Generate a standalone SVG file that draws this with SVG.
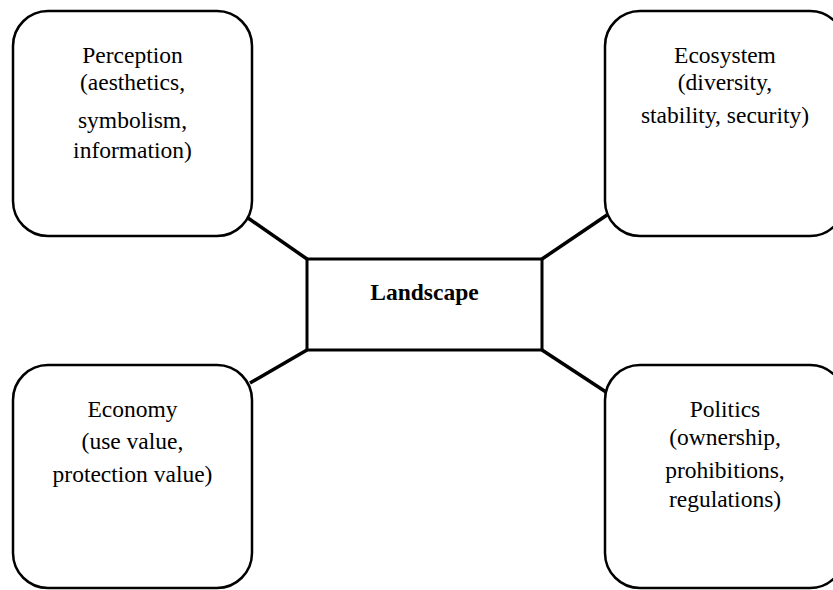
<svg xmlns="http://www.w3.org/2000/svg" width="833" height="590" viewBox="0 0 833 590">
<style>
.box{fill:#fff;stroke:#000;stroke-width:2.5}
.center{fill:#fff;stroke:#000;stroke-width:3}
.conn{stroke:#000;stroke-width:3.5;fill:none}
text{font-family:"Liberation Serif","Times New Roman",serif;font-size:23.5px;fill:#000;text-anchor:middle}
.bold{font-weight:bold}
</style>
<rect width="833" height="590" fill="#fff"/>
<g id="connectors">
<line class="conn" x1="248" y1="218" x2="307" y2="259"/>
<line class="conn" x1="607" y1="215" x2="542" y2="259"/>
<line class="conn" x1="250" y1="383" x2="307" y2="350"/>
<line class="conn" x1="606" y1="392" x2="542" y2="350"/>
</g>
<g id="perception">
<rect class="box" x="13" y="11" width="239" height="225" rx="35" ry="35"/>
<text x="132.5" y="63">Perception</text>
<text x="132.5" y="90">(aesthetics,</text>
<text x="132.5" y="128">symbolism,</text>
<text x="132.5" y="158">information)</text>
</g>
<g id="ecosystem">
<rect class="box" x="605" y="11" width="240" height="225" rx="35" ry="35"/>
<text x="725" y="63">Ecosystem</text>
<text x="725" y="90">(diversity,</text>
<text x="725" y="123">stability, security)</text>
</g>
<g id="landscape">
<rect class="center" x="307" y="259" width="235" height="91"/>
<text class="bold" x="424.5" y="300">Landscape</text>
</g>
<g id="economy">
<rect class="box" x="13" y="365" width="239" height="223" rx="35" ry="35"/>
<text x="132.5" y="417">Economy</text>
<text x="132.5" y="449">(use value,</text>
<text x="132.5" y="482">protection value)</text>
</g>
<g id="politics">
<rect class="box" x="605" y="365" width="240" height="223" rx="35" ry="35"/>
<text x="725" y="417">Politics</text>
<text x="725" y="445">(ownership,</text>
<text x="725" y="478">prohibitions,</text>
<text x="725" y="507">regulations)</text>
</g>
</svg>
